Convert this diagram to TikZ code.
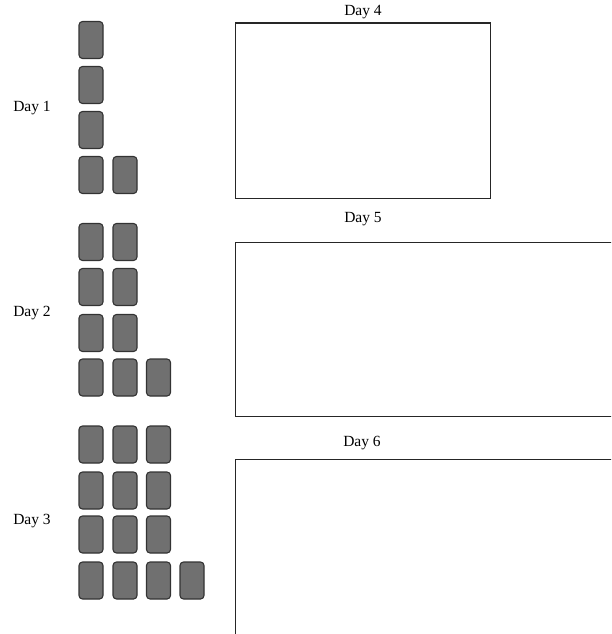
\documentclass[tikz,border=0pt]{standalone}
\usepackage{fontspec}
\setmainfont{Liberation Serif}
\begin{document}
\begin{tikzpicture}[x=1pt,y=-1pt,
  tile/.style={draw=black!80,fill=black!56,line width=1.1pt,rounded corners=3.5pt,
    minimum width=24pt,minimum height=37pt,inner sep=0pt,anchor=center},
  bigbox/.style={draw=black!85,line width=1.3pt,inner sep=0pt,anchor=north west},
  lab/.style={font=\fontsize{15.5}{17}\selectfont,inner sep=0pt,anchor=center}]
\useasboundingbox (0,0) rectangle (611,634);
\clip (0,0) rectangle (611,634);
% labels
\node[lab] (l1) at (32,108) {Day 1};
\node[lab] (l2) at (32,313) {Day 2};
\node[lab] (l3) at (32,521) {Day 3};
\node[lab] (l4) at (363,12) {Day 4};
\node[lab] (l5) at (363,219) {Day 5};
\node[lab] (l6) at (362,443) {Day 6};
% big boxes
\node[bigbox,minimum width=255pt,minimum height=175.5pt] (b4) at (235,22.5) {};
\node[bigbox,minimum width=380pt,minimum height=174pt] (b5) at (235,242) {};
\node[bigbox,minimum width=380pt,minimum height=180pt] (b6) at (235,459) {};
% Day 1 tiles
\foreach \r/\y in {1/40,2/85,3/130}{
  \node[tile] (a\r c1) at (91,\y) {};
}
\node[tile] (a4c1) at (91,175) {};
\node[tile] (a4c2) at (125,175) {};
% Day 2 tiles
\foreach \r/\y in {1/242,2/287,3/333}{
  \node[tile] (b\r c1) at (91,\y) {};
  \node[tile] (b\r c2) at (125,\y) {};
}
\foreach \c/\x in {1/91,2/125,3/158.5}{
  \node[tile] (b4c\c) at (\x,377.5) {};
}
% Day 3 tiles
\foreach \r/\y in {1/444.5,2/490.5,3/534.5}{
  \foreach \c/\x in {1/91,2/125,3/158.5}{
    \node[tile] (c\r c\c) at (\x,\y) {};
  }
}
\foreach \c/\x in {1/91,2/125,3/158.5,4/192}{
  \node[tile] (c4c\c) at (\x,580.5) {};
}
\end{tikzpicture}
\end{document}
